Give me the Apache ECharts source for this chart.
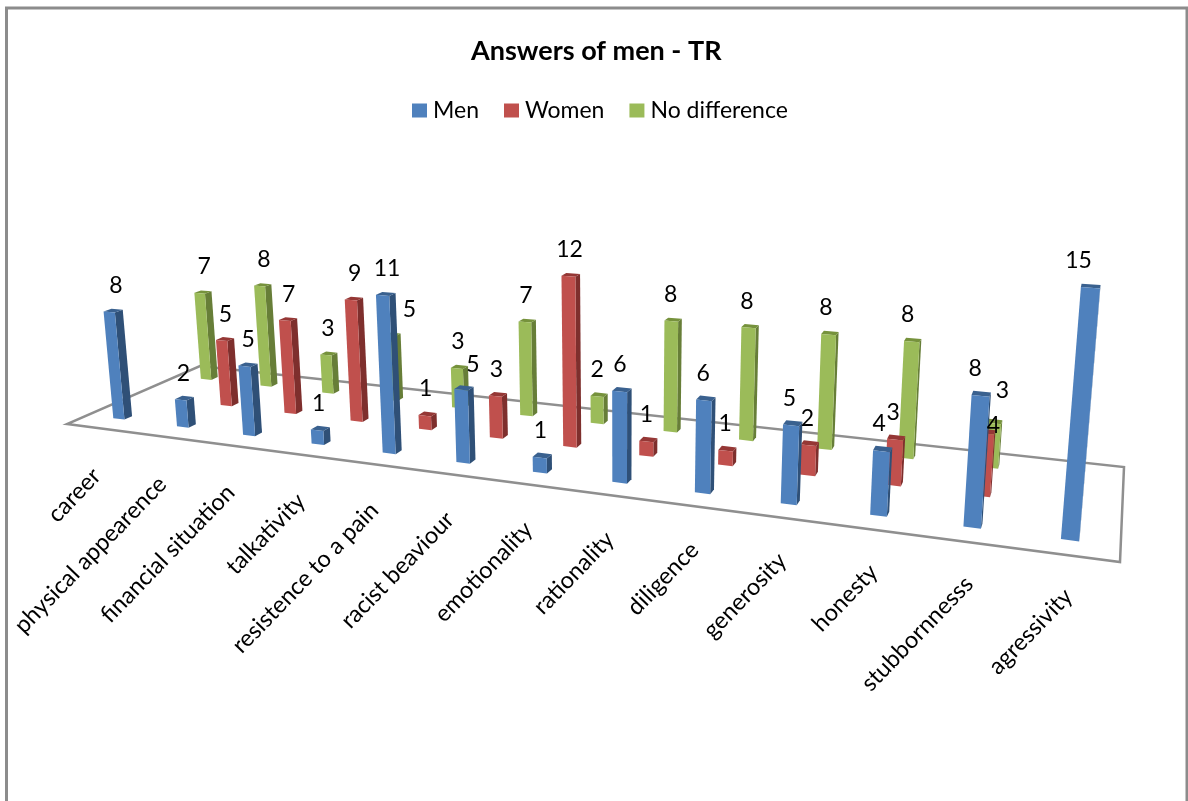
<!DOCTYPE html>
<html><head><meta charset="utf-8">
<style>html,body{margin:0;padding:0;background:#fff}#c{width:1188px;height:801px}</style>
<script src="https://cdn.jsdelivr.net/npm/echarts@6/dist/echarts.min.js"></script>
</head><body><div id="c"></div>
<script>
const categories = ['career','physical appearence','financial situation','talkativity','resistence to a pain','racist beaviour','emotionality','rationality','diligence','generosity','honesty','stubbornnesss','agressivity'];
const men = [8,2,5,1,11,5,1,6,6,5,4,8,15];
const women = [null,5,7,9,1,3,12,1,1,2,3,4,null];
const noDifference = [7,8,3,5,3,7,2,8,8,8,8,3,null];
const seriesNames = ['Men','Women','No difference'];

const FONT = 'Lato, "Open Sans", sans-serif';
const palette = [
  {front:'#4f81bd', side:'#2f5077', top:'#3a618f'},
  {front:'#c0504d', side:'#7e2f2d', top:'#953735'},
  {front:'#9bbb59', side:'#677e38', top:'#76923c'}
];
// floor quad, used as the perspective projection of the (category, depth) plane
const FL=[67,424], FR=[1120,562], BR=[1124,467], BL=[200,366];
const HEIGHT_K = 0.9, HEIGHT_EXP = 0.93, LEAN = 0.00018, LEAN_X0 = 620, BAR_HALF_CAT = 0.09, BAR_HALF_DEPTH = 0.027;
const LABEL_NUDGE = {'2:3':[18,0],'0:5':[10,2],'2:11':[12,-6],'1:11':[11,19]};
const proj = (function(){
  const [x0,y0]=FL,[x1,y1]=FR,[x2,y2]=BR,[x3,y3]=BL;
  const dx1=x1-x2,dx2=x3-x2,sx=x0-x1+x2-x3,dy1=y1-y2,dy2=y3-y2,sy=y0-y1+y2-y3;
  const den=dx1*dy2-dx2*dy1;
  const g=(sx*dy2-dx2*sy)/den,h=(dx1*sy-sx*dy1)/den;
  const a=x1-x0+g*x1,b=x3-x0+h*x3,c=x0,d=y1-y0+g*y1,e=y3-y0+h*y3,f=y0;
  return (u,v)=>{const w=g*u+h*v+1;return {x:(a*u+b*v+c)/w,y:(d*u+e*v+f)/w,w};};
})();
const GRID={left:100,width:988,top:200,height:240};
function uOf(api,i){
  const u=(api.coord([i,0])[0]-GRID.left)/GRID.width;
  return u+0.0045*Math.sin(Math.PI*u);
}
function riseOf(api,i,v){return api.coord([i,0])[1]-api.coord([i,v])[1];}
function depthOf(s){return (s+0.5)/3;}
function lift(p,rise){
  const h=rise*HEIGHT_K/Math.pow(p.w,HEIGHT_EXP);
  return [p.x+(p.x-LEAN_X0)*LEAN*h,p.y-h];
}
function barRender(s){
  return function(params,api){
    const i=api.value(0),v=api.value(1);
    if(v==null||isNaN(v)) return null;
    const u=uOf(api,i),d=depthOf(s),rise=riseOf(api,i,v);
    const hu=BAR_HALF_CAT*api.size([1,0])[0]/GRID.width,hd=BAR_HALF_DEPTH;
    const a=proj(u-hu,d-hd),b=proj(u+hu,d-hd),c=proj(u+hu,d+hd),e=proj(u-hu,d+hd);
    const A=lift(a,rise),B=lift(b,rise),C=lift(c,rise),E=lift(e,rise);
    const P=palette[s];
    const kids=[
      {type:'polygon',shape:{points:[[b.x,b.y],[c.x,c.y],C,B]},style:{fill:P.side}},
      {type:'polygon',shape:{points:[A,B,C,E]},style:{fill:P.top}},
      {type:'polygon',shape:{points:[[a.x,a.y],[b.x,b.y],B,A]},style:{fill:P.front}}
    ];
    return {type:'group',children:kids};
  };
}
function barSeries(s,vals){
  return {type:'custom',name:seriesNames[s],coordinateSystem:'cartesian2d',z:5-s,silent:true,
    itemStyle:{color:palette[s].front},
    renderItem:barRender(s),encode:{x:0,y:1},
    data:vals.map((v,i)=>[i,v])};
}
const labelData=[];
[men,women,noDifference].forEach((vals,s)=>vals.forEach((v,i)=>{if(v!=null)labelData.push([i,v,s]);}));
const option={
  animation:false,
  backgroundColor:'#fff',
  title:{text:'Answers of men - TR',left:471,top:38,padding:0,textStyle:{fontFamily:FONT,fontSize:27,fontWeight:'bold',color:'#000'}},
  legend:{data:seriesNames,left:407,top:94,icon:'rect',itemWidth:15,itemHeight:14,itemGap:25,
    textStyle:{fontFamily:FONT,fontSize:23,color:'#000',padding:[0,0,0,1]}},
  grid:GRID,
  xAxis:{type:'category',data:categories,show:false},
  yAxis:{type:'value',min:0,max:16,show:false},
  graphic:[{type:'polyline',shape:{points:[[6.5,801],[6.5,8],[1187,8],[1187,801]]},style:{stroke:'#8c8c8c',lineWidth:3,fill:null},silent:true}],
  series:[
    {type:'custom',name:'floor',silent:true,z:1,coordinateSystem:'cartesian2d',data:[[0,0]],
     renderItem:()=>({type:'polygon',shape:{points:[FL,FR,BR,BL]},style:{fill:'none',stroke:'#8f8f8f',lineWidth:2.5}})},
    barSeries(0,men),barSeries(1,women),barSeries(2,noDifference),
    {type:'custom',name:'value labels',silent:true,z:20,coordinateSystem:'cartesian2d',data:labelData,
     renderItem:(params,api)=>{
       const i=api.value(0),v=api.value(1),s=api.value(2);
       const p=proj(uOf(api,i),depthOf(s)),rise=riseOf(api,i,v),t=lift(p,rise);
       const n=LABEL_NUDGE[s+':'+i]||[0,0];
       return {type:'text',x:(t[0]+p.x)/2-2+n[0],y:t[1]-25+n[1],
         style:{text:String(v),font:'23px '+FONT,fill:'#000',align:'center',verticalAlign:'middle'}};
     }},
    {type:'custom',name:'category labels',silent:true,z:20,coordinateSystem:'cartesian2d',
     data:categories.map((c,i)=>[i,0]),
     renderItem:(params,api)=>{
       const i=api.value(0),u=uOf(api,i),p=proj(u,depthOf(0));
       return {type:'text',x:p.x-27+26*u,y:p.y+55,rotation:46*Math.PI/180,
         style:{text:categories[i],font:'23.5px '+FONT,fill:'#000',align:'right',verticalAlign:'middle'}};
     }}
  ]
};
echarts.init(document.getElementById('c'),null,{renderer:'canvas'}).setOption(option);
</script></body></html>
